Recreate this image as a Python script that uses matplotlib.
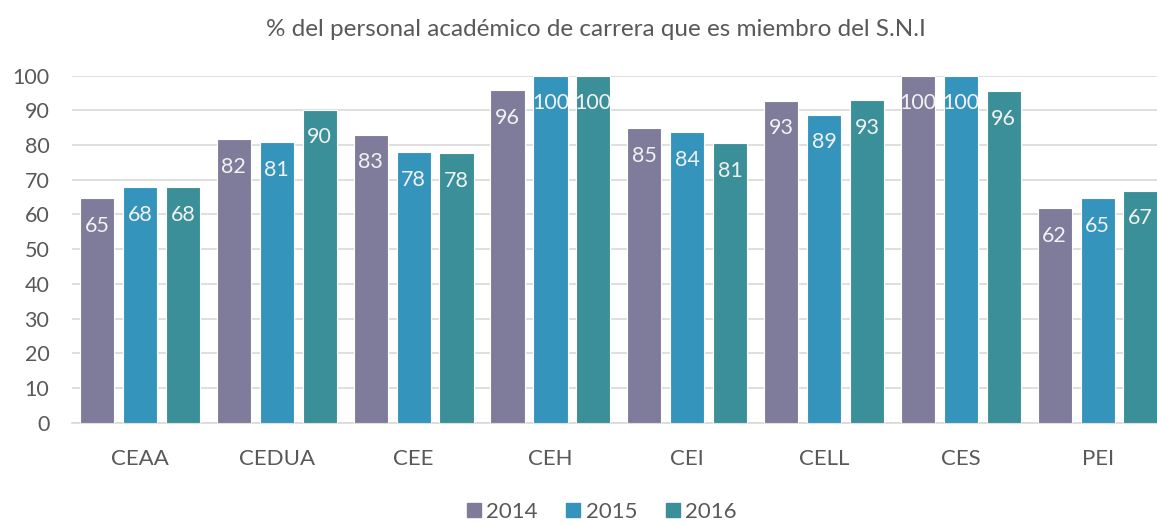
import numpy as np
import matplotlib.pyplot as plt
from matplotlib.lines import Line2D

categories = ["CEAA", "CEDUA", "CEE", "CEH", "CEI", "CELL", "CES", "PEI"]
years = ["2014", "2015", "2016"]
v2014 = [64.8, 81.8, 83, 95.9, 84.8, 92.8, 100, 61.9]
v2015 = [67.8, 80.9, 77.9, 100, 83.8, 88.8, 100, 64.8]
v2016 = [67.8, 90.2, 77.6, 100, 80.6, 92.9, 95.6, 66.9]
colors = ["#7F7B9B", "#3594BC", "#3B8F98"]

plt.rcParams['font.family'] = ['Lato', 'DejaVu Sans']
text_color = "#595959"

fig = plt.figure(figsize=(11.57, 5.25), dpi=100)
ax = fig.add_axes([71.6 / 1157, 102.3 / 525, (1166 - 71.6) / 1157, 347 / 525])

x = np.arange(len(categories))
width = 0.25
step = 0.314
for i, (vals, c) in enumerate(zip([v2014, v2015, v2016], colors)):
    bars = ax.bar(x + (i - 1) * step, vals, width, color=c,
                  edgecolor="white", linewidth=0.8, zorder=3)
    for b, v in zip(bars, vals):
        ax.annotate(f"{round(v):.0f}", (b.get_x() + b.get_width() / 2, b.get_height()),
                    xytext=(0, -20), textcoords="offset points",
                    ha="center", va="center", color="#F2F2F2", fontsize=15.5, zorder=4)

ax.set_xlim(-0.5, len(categories) - 0.5)
ax.set_ylim(0, 100)
ax.set_yticks(range(0, 101, 10))
ax.yaxis.grid(True, color="#D9D9D9", linewidth=1.2, zorder=0)
ax.set_xticks(x)
ax.set_xticklabels(categories)
ax.tick_params(axis="both", length=0, labelcolor=text_color)
ax.tick_params(axis="y", pad=16, labelsize=15.5)
ax.tick_params(axis="x", pad=19, labelsize=16)
for s in ["top", "right", "left"]:
    ax.spines[s].set_visible(False)
ax.spines["bottom"].set_color("#D9D9D9")
ax.spines["bottom"].set_linewidth(1.2)

fig.text(596 / 1157, 1 - 30 / 525, "% del personal académico de carrera que es miembro del S.N.I",
         ha="center", va="center", fontsize=17.5, color=text_color)

handles = [Line2D([], [], marker="s", linestyle="none", markersize=9.5,
                  markerfacecolor=c, markeredgecolor=c) for c in colors]
fig.legend(handles, years, loc="center", bbox_to_anchor=(602 / 1157, 13 / 525),
           ncol=3, frameon=False, fontsize=16, labelcolor=text_color,
           handlelength=0.6, handletextpad=0.25, columnspacing=1.3)

fig.savefig("out.png", dpi=100)
